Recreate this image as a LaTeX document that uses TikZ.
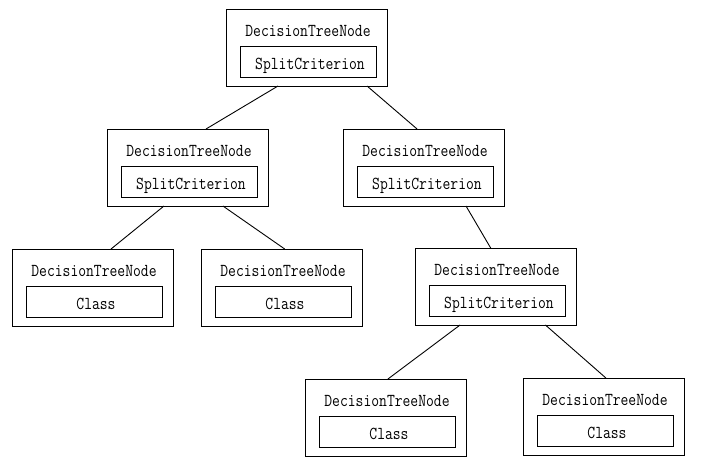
\documentclass[tikz,border=0pt]{standalone}
\usepackage{fontspec}
\usetikzlibrary{calc}
\tikzset{
  x=1pt, y=-1pt,
  outerbox/.style={draw, line width=1pt, minimum width=161pt, minimum height=77pt,
    inner sep=0pt, outer sep=0pt, anchor=north west},
  innerbox/.style={draw, line width=1pt, minimum width=136pt, minimum height=31pt,
    inner sep=0pt, outer sep=0pt, anchor=north west},
  label/.style={inner sep=0pt, anchor=base,
    font=\ttfamily\fontsize{15.2}{16}\selectfont},
  link/.style={line width=0.9pt}
}
\newcommand\tall[1]{\scalebox{1}[1.2]{#1}}
\newcommand\dtnode[4]{%
  \node[outerbox] (#1) at (#2,#3) {};
  \node[label] (#1t) at ($(#1.north)+(1.5,27)$) {\tall{DecisionTreeNode}};
  \node[innerbox] (#1i) at ($(#1.north west)+(14.5,37)$) {};
  \node[label] (#1l) at ($(#1i.south)+(1.5,-8)$) {\tall{#4}};
}
\begin{document}
\begin{tikzpicture}
\useasboundingbox[fill=white] (0,0) rectangle (702,472);
\dtnode{r}{226}{9}{SplitCriterion}
\dtnode{a}{107}{129}{SplitCriterion}
\dtnode{b}{343}{129}{SplitCriterion}
\dtnode{c}{12}{249}{Class}
\dtnode{d}{201}{249}{Class}
\dtnode{e}{415}{248}{SplitCriterion}
\dtnode{f}{305}{379}{Class}
\dtnode{g}{523}{378}{Class}
\draw[link] ($(r.south west)!0.323!(r.south east)$) -- ($(a.north west)!0.615!(a.north east)$);
\draw[link] ($(r.south west)!0.876!(r.south east)$) -- ($(b.north west)!0.46!(b.north east)$);
\draw[link] ($(a.south west)!0.354!(a.south east)$) -- ($(c.north west)!0.615!(c.north east)$);
\draw[link] ($(a.south west)!0.72!(a.south east)$) -- ($(d.north west)!0.52!(d.north east)$);
\draw[link] ($(b.south west)!0.764!(b.south east)$) -- ($(e.north west)!0.47!(e.north east)$);
\draw[link] ($(e.south west)!0.28!(e.south east)$) -- ($(f.north west)!0.515!(f.north east)$);
\draw[link] ($(e.south west)!0.81!(e.south east)$) -- ($(g.north west)!0.515!(g.north east)$);
\end{tikzpicture}
\end{document}
